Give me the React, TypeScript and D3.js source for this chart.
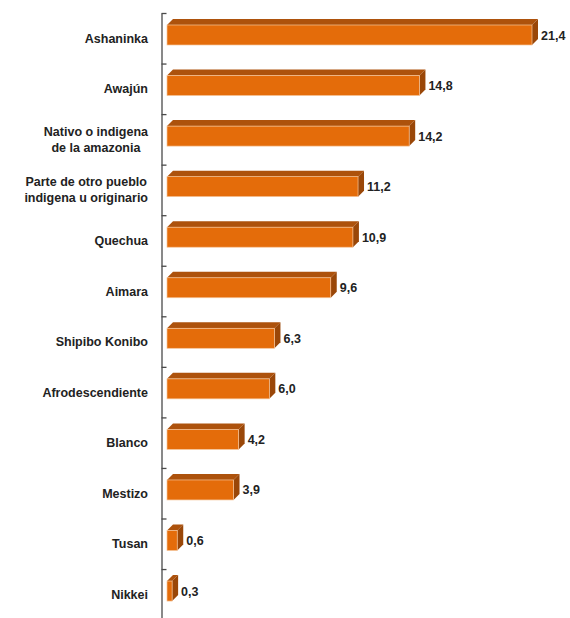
import * as d3 from 'd3';
import { useEffect, useRef } from 'react';

const categories = [
  ['Ashaninka'],
  ['Awajún'],
  ['Nativo o indigena', 'de la amazonia'],
  ['Parte de otro pueblo', 'indigena u originario'],
  ['Quechua'],
  ['Aimara'],
  ['Shipibo Konibo'],
  ['Afrodescendiente'],
  ['Blanco'],
  ['Mestizo'],
  ['Tusan'],
  ['Nikkei'],
];
const values = [21.4, 14.8, 14.2, 11.2, 10.9, 9.6, 6.3, 6.0, 4.2, 3.9, 0.6, 0.3];

const width = 570;
const height = 618;
const axisX = 161.5;
const top = 13;
const step = 50.55;
const depth = 6;
const faceH = 20;

const App = () => {
  const ref = useRef<SVGSVGElement | null>(null);

  useEffect(() => {
    if (!ref.current) return;
    const svg = d3.select(ref.current);
    svg.selectAll('*').remove();

    const keys = categories.map((c) => c.join(' '));
    const y = d3.scaleBand().domain(keys).range([top, top + step * keys.length]).padding(0);
    const x = d3.scaleLinear().domain([0, 21.4]).range([167, 532]);

    // axis with ticks at band boundaries
    const yb = d3.scaleLinear().domain([0, keys.length]).range([top, top + step * keys.length]);
    const axis = svg
      .append('g')
      .attr('transform', `translate(${axisX},0)`)
      .call(
        d3
          .axisRight(yb)
          .tickValues(d3.range(keys.length + 1))
          .tickSize(5)
          .tickSizeOuter(0)
          .tickFormat(() => ''),
      );
    axis.selectAll('path,line').attr('stroke', '#4a4a4a').attr('stroke-width', 1.3);

    const data = values.map((v, i) => ({ key: keys[i], lines: categories[i], v }));

    const bars = svg.append('g').selectAll('g').data(data).join('g');

    bars.each(function (d) {
      const g = d3.select(this);
      const y0 = (y(d.key) || 0) + 12;
      const x0 = x(0);
      const x1 = x(d.v);
      // top face
      g.append('path')
        .attr('d', `M${x0},${y0} L${x0 + depth},${y0 - depth} L${x1 + depth},${y0 - depth} L${x1},${y0} Z`)
        .attr('fill', '#ad520c');
      // side face
      g.append('path')
        .attr('d', `M${x1},${y0} L${x1 + depth},${y0 - depth} L${x1 + depth},${y0 + faceH - depth} L${x1},${y0 + faceH} Z`)
        .attr('fill', '#9a4708');
      // front face
      g.append('rect')
        .attr('x', x0)
        .attr('y', y0)
        .attr('width', x1 - x0)
        .attr('height', faceH)
        .attr('fill', '#e46c0a')
        .attr('stroke', '#f6c59a')
        .attr('stroke-width', 0.7);
      // value label
      g.append('text')
        .attr('x', x1 + depth + 3)
        .attr('y', y0 + faceH / 2 + 4.5)
        .attr('font-family', 'Liberation Sans, Arial, sans-serif')
        .attr('font-weight', 'bold')
        .attr('font-size', 12.5)
        .attr('fill', '#222')
        .text(d3.format('.1f')(d.v).replace('.', ','));

      // category label
      const cy = (y(d.key) || 0) + step / 2;
      const t = g
        .append('text')
        .attr('font-family', 'Liberation Sans, Arial, sans-serif')
        .attr('font-weight', 'bold')
        .attr('font-size', 12.5)
        .attr('fill', '#222');
      const lh = 16;
      const spans = d.lines.map((line, j) =>
        t
          .append('tspan')
          .attr('y', cy + 4.5 + (j - (d.lines.length - 1) / 2) * lh)
          .text(line),
      );
      if (d.lines.length === 1) {
        t.attr('text-anchor', 'end');
        spans[0].attr('x', 148);
      } else {
        const w = Math.max(...spans.map((s) => (s.node() as SVGTSpanElement).getComputedTextLength()));
        t.attr('text-anchor', 'middle');
        spans.forEach((s) => s.attr('x', 148 - w / 2));
      }
    });
  }, []);

  return (
    <div>
      <style>{`body{margin:0}`}</style>
      <svg width={width} height={height} ref={ref} style={{ display: 'block', background: '#fff' }}></svg>
    </div>
  );
};

export default App;
